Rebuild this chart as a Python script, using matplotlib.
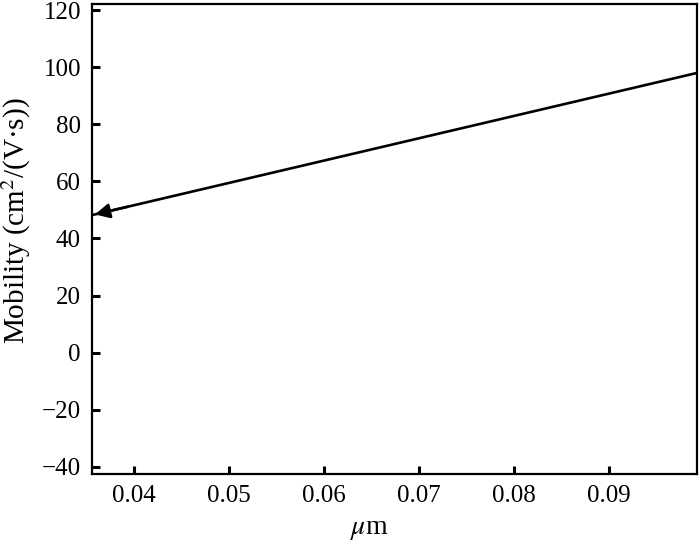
import numpy as np
import matplotlib
matplotlib.use('Agg')
import matplotlib.pyplot as plt

# line end points
x_vals = [0.0356, 0.0993]
y_vals = [48.2, 98.0]

x_ticks = [0.04, 0.05, 0.06, 0.07, 0.08, 0.09]
y_ticks = [-40, -20, 0, 20, 40, 60, 80, 100, 120]

plt.rcParams['font.family'] = ['Liberation Serif', 'DejaVu Serif']
plt.rcParams['mathtext.fontset'] = 'stix'
plt.rcParams['font.size'] = 18

fig = plt.figure(figsize=(7, 5.42), dpi=100)
ax = fig.add_axes([0.1314, 0.1255, 0.8643, 0.8671])

ax.plot(x_vals, y_vals, color='black', lw=1.9)
ax.annotate('', xy=(x_vals[0], y_vals[0]), xytext=(x_vals[0] + 0.004, y_vals[0] + 3.13),
            arrowprops=dict(arrowstyle='-|>', color='black', lw=1.9, mutation_scale=22))

ax.set_xlim(0.03558, 0.09926)
ax.set_ylim(-42.45, 122.1)
ax.set_xticks(x_ticks)
ax.set_xticklabels([f'{t:.2f}' for t in x_ticks])
ax.set_yticks(y_ticks)
ax.set_yticklabels([str(t).replace('-', '\u2212') for t in y_ticks])
ax.tick_params(direction='in', length=6, width=2.2, top=False, right=False, pad=8)
for s in ax.spines.values():
    s.set_linewidth(1.6)

ax.set_xlabel(r'$\mu$m', fontsize=20, va='center')
ax.xaxis.set_label_coords(0.458, -0.119)
ax.set_ylabel('Mobility (cm$^2$/(V\u00b7s))', fontsize=21, va='center')
ax.yaxis.set_label_coords(-0.1256, 0.538)

fig.savefig('out.png', dpi=100)
